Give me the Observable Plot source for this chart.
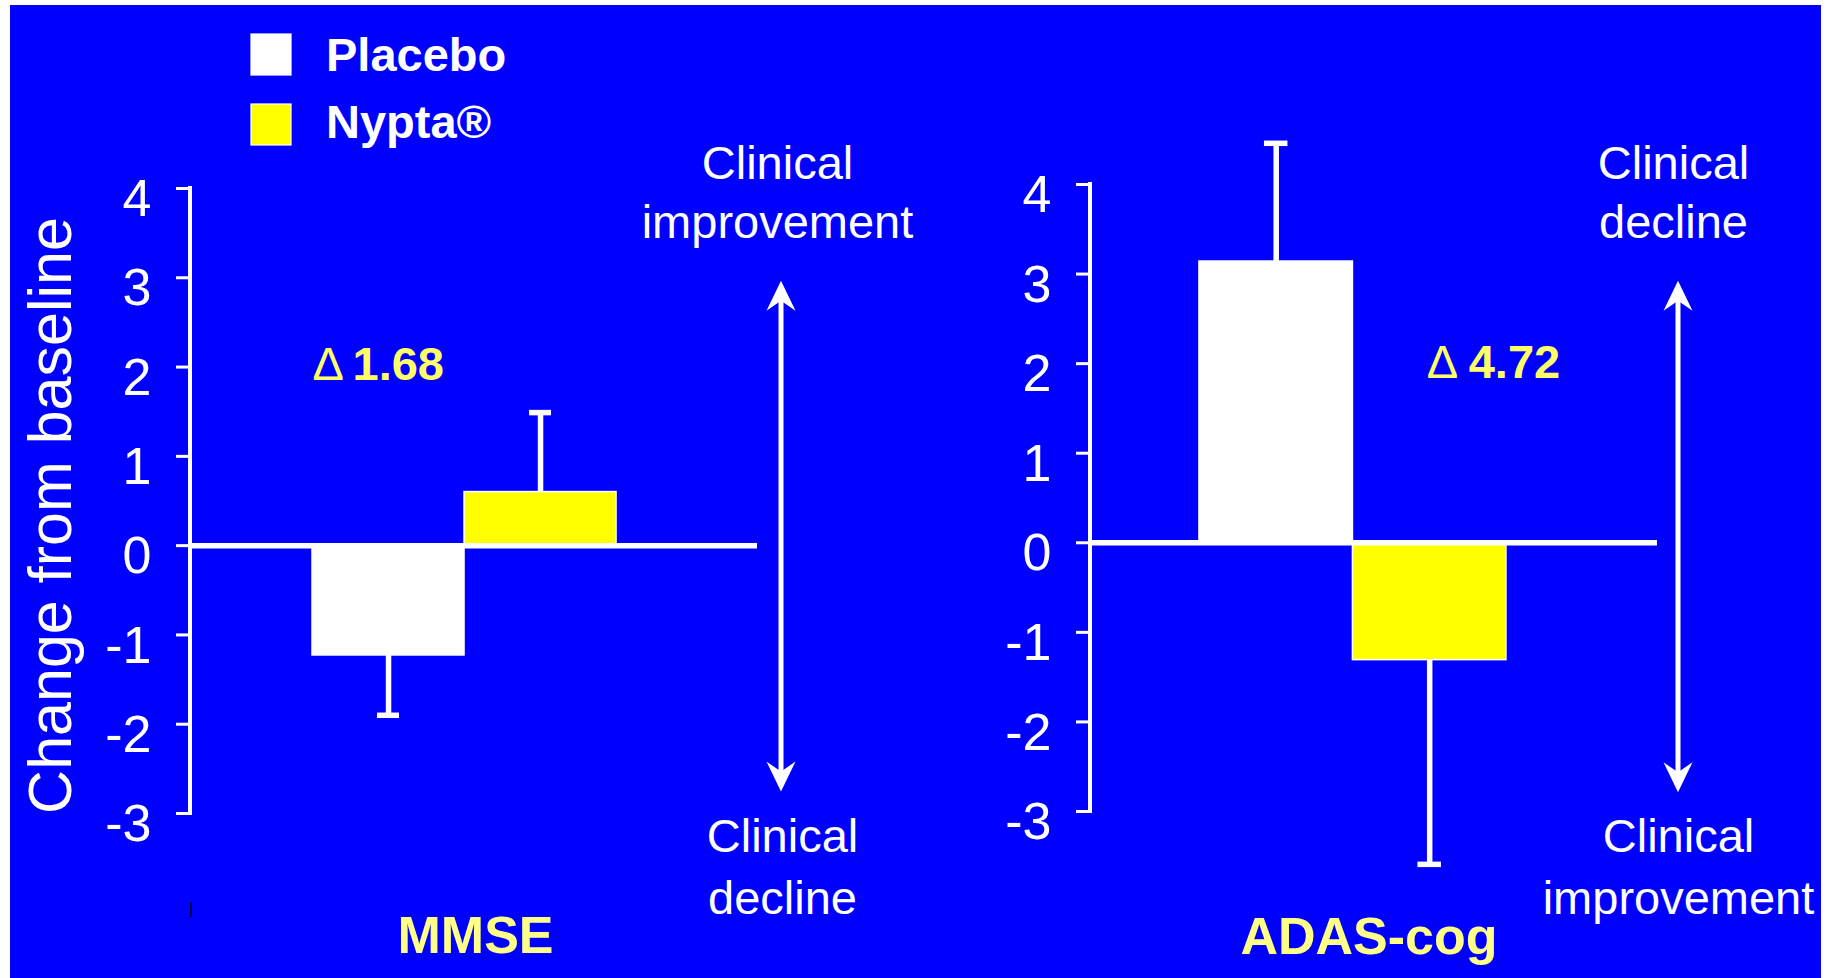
<!DOCTYPE html>
<html>
<head>
<meta charset="utf-8">
<script src="https://cdn.jsdelivr.net/npm/d3@7"></script>
<script src="https://cdn.jsdelivr.net/npm/@observablehq/plot@0.6"></script>
<style>
  html, body { margin: 0; padding: 0; background: #ffffff; width: 1832px; height: 978px; overflow: hidden; }
  #bg { position: absolute; left: 10px; top: 5px; width: 1811px; height: 973px; background: #0000ff; }
  .panel { position: absolute; top: 0; }
  svg text { font-family: "Liberation Sans", Arial, Helvetica, sans-serif; }
</style>
</head>
<body>
<div id="bg"></div>
<div id="left" class="panel" style="left:0px"></div>
<div id="right" class="panel" style="left:900px"></div>
<script>
// ---------------- data ----------------
const groups = ["Placebo", "Nypta®"];
const groupColors = ["#ffffff", "#ffff00"];
const measures = ["MMSE", "ADAS-cog"];
const mmseMeans = [-1.23, 0.60];
const mmseErrors = [0.67, 0.89];
const adasMeans = [3.14, -1.31];
const adasErrors = [1.32, 2.28];
const deltaLabels = ["1.68", "4.72"];
const yTicks = [-3, -2, -1, 0, 1, 2, 3, 4];
const yLabel = "Change from baseline";
const topNotes = ["Clinical\nimprovement", "Clinical\ndecline"];
const bottomNotes = ["Clinical\ndecline", "Clinical\nimprovement"];

const FONT = '"Liberation Sans", Arial, Helvetica, sans-serif';

function rows(means, errors) {
  return groups.map((g, i) => ({
    group: g,
    value: means[i],
    end: means[i] + Math.sign(means[i]) * errors[i]
  }));
}

// ---------------- layout / style per panel ----------------
const panels = [
  {
    el: "#left", title: measures[0], data: rows(mmseMeans, mmseErrors), delta: deltaLabels[0],
    top: topNotes[0], bottom: bottomNotes[0],
    marginTop: 188, marginBottom: 165, paddingOuter: 0.865, align: 0.464,
    deltaGroup: groups[0], deltaY: 1.85, deltaDx: -76, numDx: -36,
    titleDx: 1.5, titleDy: 139, topDx: 20, topDy: 49, bottomDx: 25, bottomDy: 100,
    arrowDx: 24, arrowTop: 2.96, arrowBottom: -2.76, showYLabel: true
  },
  {
    el: "#right", title: measures[1], data: rows(adasMeans, adasErrors), delta: deltaLabels[1],
    top: topNotes[1], bottom: bottomNotes[1],
    marginTop: 184, marginBottom: 167, paddingOuter: 0.847, align: 0.419,
    deltaGroup: groups[1], deltaY: 1.835, deltaDx: -3, numDx: 39,
    titleDx: -5, titleDy: 142, topDx: 16, topDy: 53, bottomDx: 21, bottomDy: 102,
    arrowDx: 21, arrowTop: 2.92, arrowBottom: -2.79, showYLabel: false
  }
];

function axisLine(index, scales, values, dims) {
  const x = dims.marginLeft;
  return d3.create("svg:line")
    .attr("x1", x).attr("x2", x)
    .attr("y1", scales.y(d3.max(yTicks))).attr("y2", scales.y(d3.min(yTicks)))
    .attr("stroke", "white").attr("stroke-width", 4).attr("stroke-linecap", "square")
    .node();
}

// small stray black tick seen below the left axis in the original slide
function strayTick(index, scales, values, dims) {
  const x = dims.marginLeft + 1;
  const yb = dims.height - dims.marginBottom;
  return d3.create("svg:line")
    .attr("x1", x).attr("x2", x).attr("y1", yb + 89).attr("y2", yb + 104)
    .attr("stroke", "black").attr("stroke-width", 1.5)
    .node();
}

function doubleArrow(p) {
  return (index, scales, values, dims) => {
    const x = dims.width - dims.marginRight + p.arrowDx;
    const y1 = scales.y(p.arrowTop), y2 = scales.y(p.arrowBottom);
    const g = d3.create("svg:g");
    g.append("line").attr("x1", x).attr("x2", x).attr("y1", y1 + 18).attr("y2", y2 - 18)
      .attr("stroke", "white").attr("stroke-width", 5);
    const head = (ty, dir) =>
      `M${x},${ty}L${x - 14.5},${ty + dir * 30}L${x},${ty + dir * 20}L${x + 14.5},${ty + dir * 30}Z`;
    g.append("path").attr("d", head(y1, 1)).attr("fill", "white");
    g.append("path").attr("d", head(y2, -1)).attr("fill", "white");
    return g.node();
  };
}

for (const p of panels) {
  const chart = Plot.plot({
    width: 932,
    height: 978,
    marginLeft: 190,
    marginRight: 175,
    marginTop: p.marginTop,
    marginBottom: p.marginBottom,
    style: { background: "transparent", color: "white", fontFamily: FONT, overflow: "visible" },
    x: { domain: groups, axis: null, paddingInner: 0, paddingOuter: p.paddingOuter, align: p.align, round: false },
    y: { domain: [d3.min(yTicks), d3.max(yTicks)], label: null },
    color: { domain: groups, range: groupColors },
    marks: [
      Plot.barY(p.data, { x: "group", y1: 0, y2: "value", fill: "group", stroke: "white", strokeWidth: 1.5 }),
      Plot.ruleX(p.data, { x: "group", y1: "value", y2: "end", stroke: "white", strokeWidth: 5.5 }),
      Plot.tickY(p.data, { x: "group", y: "end", stroke: "white", strokeWidth: 5.5, insetLeft: 65, insetRight: 65 }),
      Plot.ruleY([0], { stroke: "white", strokeWidth: 5.5 }),
      axisLine,
      Plot.axisY({ ticks: yTicks, tickSize: 14, stroke: "white", strokeWidth: 3, fill: "none", label: null }),
      Plot.axisY({ ticks: yTicks, tickSize: 14, tickPadding: 25, stroke: "none", fill: "white",
        fontSize: 52, dy: 11, tickFormat: d => String(d), label: null }),
      doubleArrow(p),
      Plot.text([p.top], { text: d => d, frameAnchor: "top-right", textAnchor: "middle", lineAnchor: "bottom",
        lineHeight: 1.255, dx: p.topDx, dy: p.topDy, fill: "white", fontSize: 47 }),
      Plot.text([p.bottom], { text: d => d, frameAnchor: "bottom-right", textAnchor: "middle", lineAnchor: "bottom",
        lineHeight: 1.3, dx: p.bottomDx, dy: p.bottomDy, fill: "white", fontSize: 47 }),
      Plot.text([p.delta], { x: () => p.deltaGroup, y: () => p.deltaY, text: () => "Δ", textAnchor: "start",
        lineAnchor: "bottom", dx: p.deltaDx, fill: "#ffff66", fontSize: 47 }),
      Plot.text([p.delta], { x: () => p.deltaGroup, y: () => p.deltaY, text: d => d, textAnchor: "start",
        lineAnchor: "bottom", dx: p.numDx, fill: "#ffff66", fontSize: 47, fontWeight: "bold" }),
      Plot.text([p.title], { text: d => d, frameAnchor: "bottom", lineAnchor: "bottom", dx: p.titleDx, dy: p.titleDy,
        fill: "#ffff88", fontSize: 52, fontWeight: "bold" }),
      p.showYLabel ? Plot.text([yLabel], { text: d => d, frameAnchor: "left", textAnchor: "middle",
        lineAnchor: "middle", rotate: -90, dx: -139.5, dy: 14.5, fill: "white", fontSize: 61 }) : null,
      p.showYLabel ? strayTick : null
    ]
  });
  document.querySelector(p.el).append(chart);
}

// ---------------- legend ----------------
const leg = d3.select("body").append("svg")
  .attr("width", 600).attr("height", 170)
  .style("position", "absolute").style("left", "0px").style("top", "0px");
const legRows = [{ box: 34, base: 71 }, { box: 104, base: 138 }];
groups.forEach((g, i) => {
  leg.append("rect").attr("x", 251).attr("y", legRows[i].box).attr("width", 40).attr("height", 41)
    .attr("fill", groupColors[i]).attr("stroke", "white").attr("stroke-width", 1.2);
  leg.append("text").attr("x", 326).attr("y", legRows[i].base).text(g)
    .attr("fill", "white").attr("font-size", 47).attr("font-weight", "bold");
});
</script>
</body>
</html>
